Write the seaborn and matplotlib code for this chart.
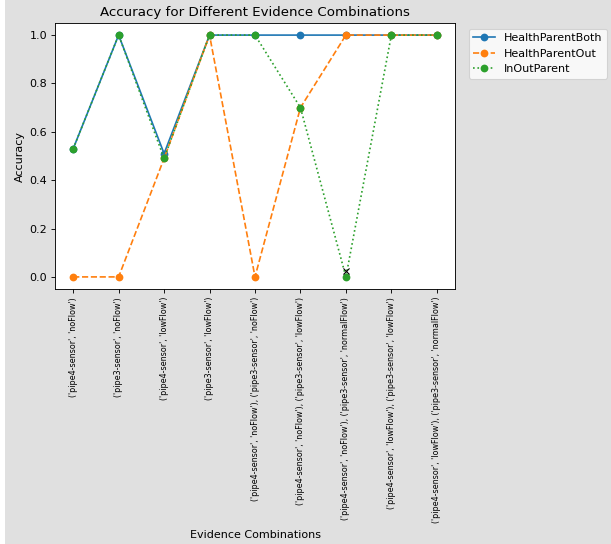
import matplotlib
matplotlib.use("Agg")
import matplotlib.pyplot as plt
import seaborn as sns
import pandas as pd

combinations = [
    "('pipe4-sensor', 'noFlow')",
    "('pipe3-sensor', 'noFlow')",
    "('pipe4-sensor', 'lowFlow')",
    "('pipe3-sensor', 'lowFlow')",
    "('pipe4-sensor', 'noFlow'), ('pipe3-sensor', 'noFlow')",
    "('pipe4-sensor', 'noFlow'), ('pipe3-sensor', 'lowFlow')",
    "('pipe4-sensor', 'noFlow'), ('pipe3-sensor', 'normalFlow')",
    "('pipe4-sensor', 'lowFlow'), ('pipe3-sensor', 'lowFlow')",
    "('pipe4-sensor', 'lowFlow'), ('pipe3-sensor', 'normalFlow')",
]
health_parent_both = [0.53, 1.0, 0.51, 1.0, 1.0, 1.0, 1.0, 1.0, 1.0]
health_parent_out = [0.0, 0.0, 0.49, 1.0, 0.0, 0.70, 1.0, 1.0, 1.0]
in_out_parent = [0.53, 1.0, 0.49, 1.0, 1.0, 0.70, 0.0, 1.0, 1.0]
models = ["HealthParentBoth", "HealthParentOut", "InOutParent"]

# extra cross marker
cross_idx = [6]
cross_val = [0.025]

rows = []
for name, vals in zip(models, [health_parent_both, health_parent_out, in_out_parent]):
    for i, v in enumerate(vals):
        rows.append({"idx": i, "Accuracy": v, "Model": name})
df = pd.DataFrame(rows)

DPI = 80
plt.rcParams["font.family"] = ["DejaVu Sans"]
fig = plt.figure(figsize=(611 / DPI, 544 / DPI), dpi=DPI, facecolor="#e0e0e0")
ax = fig.add_axes([55 / 611, 1 - 289 / 544, 400 / 611, 266 / 544])
ax.set_facecolor("white")

palette = {"HealthParentBoth": "#1f77b4", "HealthParentOut": "#ff7f0e", "InOutParent": "#2ca02c"}
dashes = {"HealthParentBoth": "", "HealthParentOut": (3.7, 1.6), "InOutParent": (1, 1.65)}
sns.lineplot(data=df, x="idx", y="Accuracy", hue="Model", style="Model",
             palette=palette, dashes=dashes, markers={m: "o" for m in models},
             markersize=7, markeredgewidth=0, linewidth=1.5, ax=ax)

ax.scatter(cross_idx, cross_val, marker="x", color="black", s=30, linewidths=1, zorder=5)

ax.set_xticks(range(len(combinations)))
ax.set_xticklabels(combinations, rotation=90, fontsize=7.2)
ax.tick_params(axis="y", labelsize=10)
ax.set_ylim(-0.05, 1.05)
ax.set_xlim(-0.4, 8.4)
ax.set_title("Accuracy for Different Evidence Combinations", fontsize=12)
ax.set_xlabel("Evidence Combinations", fontsize=10, labelpad=6)
ax.set_ylabel("Accuracy", fontsize=10)
ax.legend(title=None, loc="upper left", bbox_to_anchor=(1.02, 1.0), fontsize=10)

fig.patches.append(plt.Rectangle((0, 0), 5 / 611, 1, transform=fig.transFigure,
                                 facecolor="white", edgecolor="none"))

fig.savefig("out.png", dpi=DPI, facecolor=fig.get_facecolor())
